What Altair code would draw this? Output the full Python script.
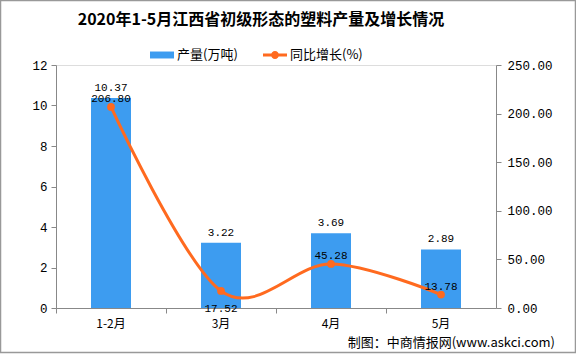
import altair as alt
import pandas as pd

categories = ["1-2月", "3月", "4月", "5月"]
output = [10.37, 3.22, 3.69, 2.89]
growth = [206.80, 17.52, 45.28, 13.78]
label_below = [False, True, False, False]

TITLE = "2020年1-5月江西省初级形态的塑料产量及增长情况"
FOOTER = "制图：中商情报网(www.askci.com)"
BAR_NAME = "产量(万吨)"
LINE_NAME = "同比增长(%)"
BLUE = "#3d9cf0"
ORANGE = "#ff6a1f"
NUM_FONT = "Liberation Mono"
CJK_FONT = "Noto Sans CJK SC"

df = pd.DataFrame({
    "cat": categories,
    "output": output,
    "growth": growth,
    "below": label_below,
    "bs": [BAR_NAME] * len(categories),
    "ls": [LINE_NAME] * len(categories),
})

base = alt.Chart(df)
xenc = alt.X(
    "cat:N", sort=categories, title=None,
    scale=alt.Scale(paddingInner=0, paddingOuter=0),
    axis=alt.Axis(
        bandPosition=0, labelAngle=0, labelFont=CJK_FONT, labelFontSize=12,
        labelColor="#000", domainColor="#888", tickColor="#888", tickSize=5,
        labelPadding=5, grid=False,
    ),
)
xs = alt.X("cat:N", sort=categories, title=None)

bars = base.mark_bar(size=40).encode(
    x=xenc,
    y=alt.Y(
        "output:Q", title=None,
        scale=alt.Scale(domain=[0, 12], nice=False),
        axis=alt.Axis(
            values=[0, 2, 4, 6, 8, 10, 12], labelFont=NUM_FONT, labelFontSize=12.5,
            labelColor="#000", domainColor="#888", tickColor="#888", tickSize=5,
            labelPadding=4, grid=False,
        ),
    ),
    color=alt.Color(
        "bs:N", scale=alt.Scale(domain=[BAR_NAME], range=[BLUE]),
        legend=alt.Legend(
            orient="none", legendX=94, legendY=-22, title=None,
            symbolType="M-1,-0.29L1,-0.29L1,0.29L-1,0.29Z", symbolSize=576,
            symbolStrokeWidth=0, labelFont=CJK_FONT, labelFontSize=13,
            labelColor="#000", labelOffset=3, padding=0,
        ),
    ),
)
bar_text = base.mark_text(
    baseline="bottom", dy=-5, font=NUM_FONT, fontSize=11, color="#000"
).encode(
    x=xs,
    y=alt.Y("output:Q", title=None),
    text=alt.Text("output:Q", format=".2f"),
)
bar_layer = alt.layer(bars, bar_text)

yr = alt.Scale(domain=[0, 250], nice=False)
line = base.mark_line(color=ORANGE, strokeWidth=3, interpolate="cardinal").encode(
    x=xs,
    y=alt.Y(
        "growth:Q", title=None, scale=yr,
        axis=alt.Axis(
            orient="right", values=[0, 50, 100, 150, 200, 250], format=".2f",
            labelFont=NUM_FONT, labelFontSize=12.5, labelColor="#000",
            domainColor="#888", tickColor="#888", tickSize=5, labelPadding=6,
            grid=False,
        ),
    ),
)
points = base.mark_circle(size=60, opacity=1).encode(
    x=xs,
    y=alt.Y("growth:Q", title=None),
    color=alt.Color(
        "ls:N", scale=alt.Scale(domain=[LINE_NAME], range=[ORANGE]),
        legend=alt.Legend(
            orient="none", legendX=207, legendY=-22, title=None,
            symbolType=(
                "M-1,-0.12L-0.3,-0.12L-0.3,0.12L-1,0.12Z "
                "M0.3,-0.12L1,-0.12L1,0.12L0.3,0.12Z "
                "M0.33,0A0.33,0.33 0 1,1 -0.33,0A0.33,0.33 0 1,1 0.33,0Z"
            ),
            symbolSize=576, symbolStrokeWidth=0, labelFont=CJK_FONT,
            labelFontSize=13, labelColor="#000", labelOffset=3, padding=0,
        ),
    ),
)
line_text_above = base.transform_filter("!datum.below").mark_text(
    baseline="bottom", dy=-3, font=NUM_FONT, fontSize=11, color="#000"
).encode(
    x=xs,
    y=alt.Y("growth:Q", title=None),
    text=alt.Text("growth:Q", format=".2f"),
)
line_text_below = base.transform_filter("datum.below").mark_text(
    baseline="top", dy=12, font=NUM_FONT, fontSize=11, color="#000"
).encode(
    x=xs,
    y=alt.Y("growth:Q", title=None),
    text=alt.Text("growth:Q", format=".2f"),
)
line_layer = alt.layer(line, points, line_text_above, line_text_below)

frame = alt.Chart(pd.DataFrame({"a": [0]})).mark_rect(
    fill=None, stroke="#999", strokeWidth=1.5
).encode(
    x=alt.value(-55.5), x2=alt.value(519.5), y=alt.value(-64.5), y2=alt.value(287.5)
)
footer = alt.Chart(pd.DataFrame({"t": [FOOTER]})).mark_text(
    align="right", baseline="middle", font=CJK_FONT, fontSize=13, color="#000"
).encode(x=alt.value(499), y=alt.value(278), text="t:N")
title = alt.Chart(pd.DataFrame({"t": [TITLE]})).mark_text(
    align="center", baseline="middle", font=CJK_FONT, fontSize=16,
    fontWeight="bold", color="#000"
).encode(x=alt.value(205), y=alt.value(-45), text="t:N")

chart = alt.layer(bar_layer, line_layer, footer, title, frame).resolve_scale(
    y="independent", color="independent"
).properties(
    width=440, height=243,
    padding={"left": 56, "top": 65, "right": 80, "bottom": 46},
    autosize=alt.AutoSizeParams(type="none"),
).configure_view(stroke=None).configure(background="white")

chart.save("out.html", embed_options={"renderer": "svg", "actions": False})
